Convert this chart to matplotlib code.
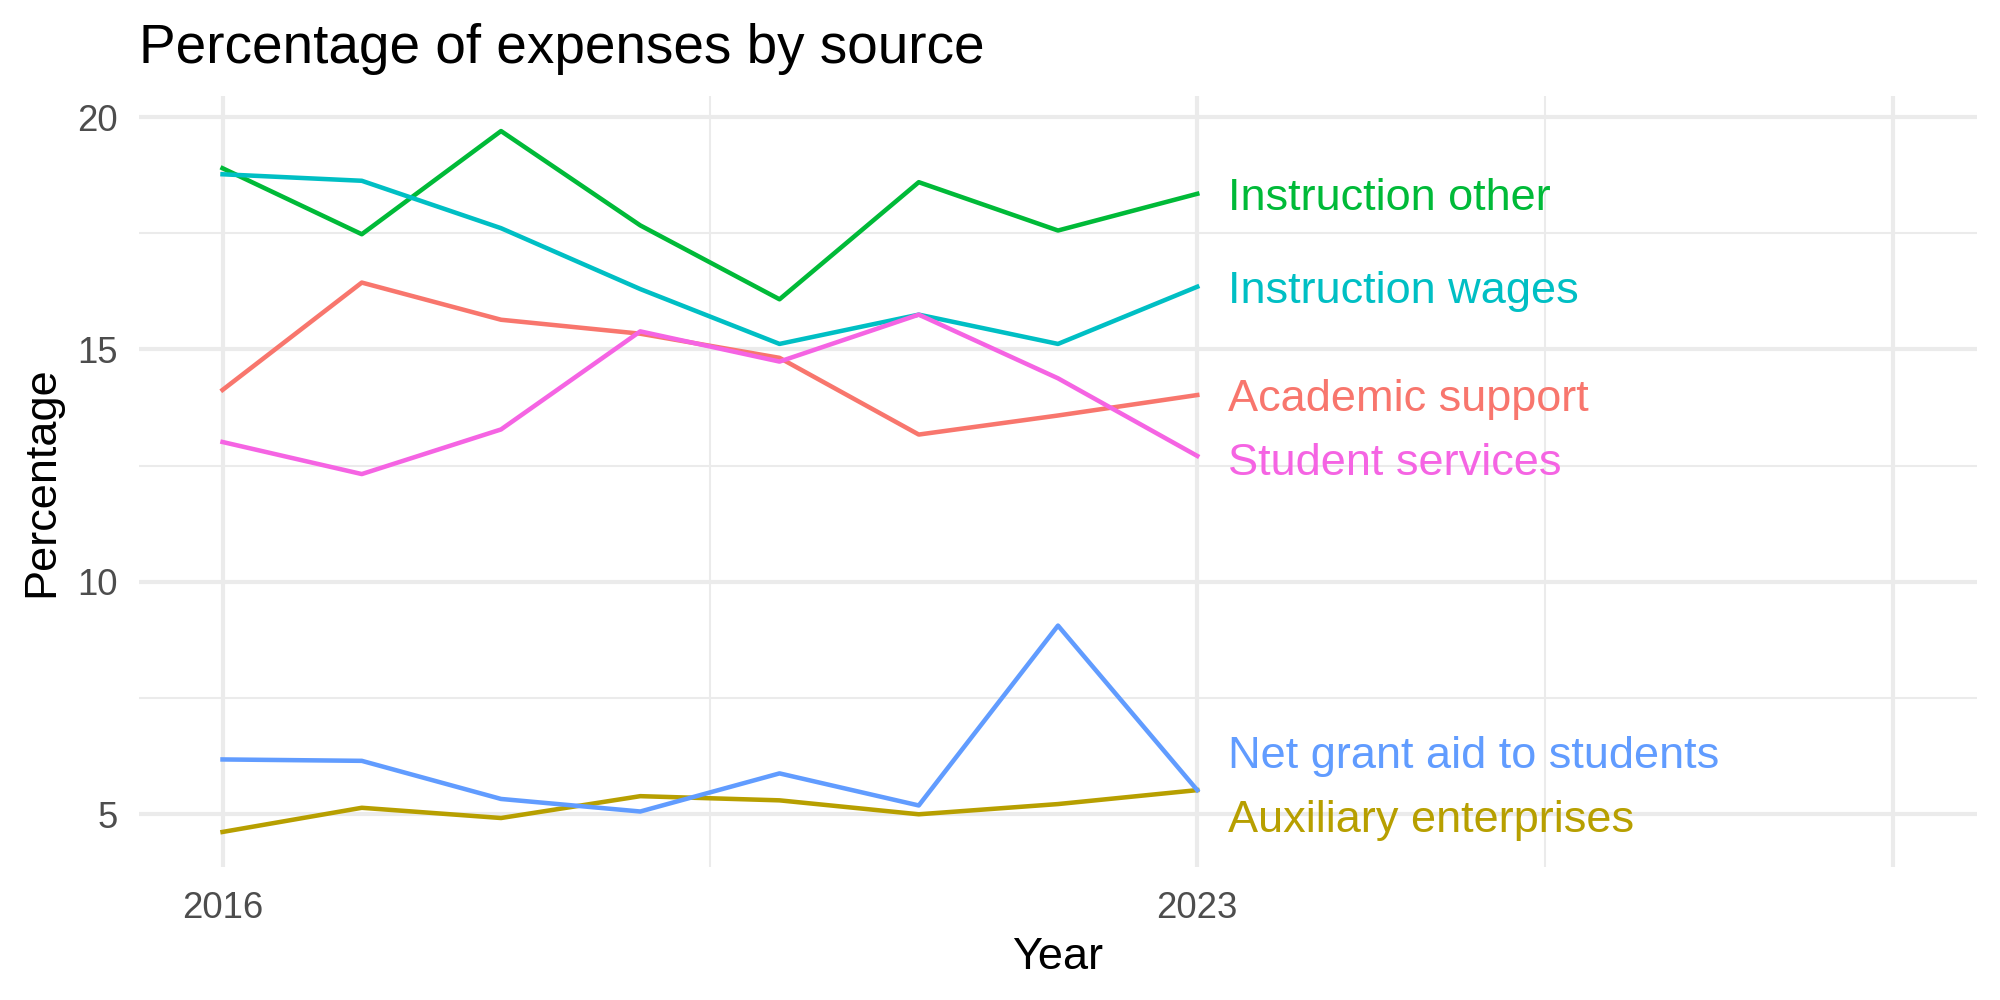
import matplotlib
matplotlib.use("Agg")
import matplotlib.pyplot as plt
import numpy as np

plt.rcParams['font.family'] = ['Liberation Sans', 'DejaVu Sans']

# values
years = [2016, 2017, 2018, 2019, 2020, 2021, 2022, 2023]
sources = ['Academic support', 'Auxiliary enterprises', 'Instruction other',
           'Instruction wages', 'Net grant aid to students', 'Student services']
academic_support = [14.13, 16.44, 15.64, 15.34, 14.82, 13.17, 13.58, 14.02]
auxiliary = [4.62, 5.14, 4.92, 5.39, 5.30, 5.00, 5.22, 5.52]
instruction_other = [18.90, 17.48, 19.70, 17.67, 16.08, 18.60, 17.56, 18.35]
instruction_wages = [18.77, 18.63, 17.61, 16.30, 15.12, 15.75, 15.12, 16.35]
net_grant_aid = [6.18, 6.15, 5.33, 5.06, 5.88, 5.19, 9.06, 5.52]
student_services = [13.01, 12.32, 13.28, 15.39, 14.74, 15.75, 14.38, 12.71]
series = [academic_support, auxiliary, instruction_other,
          instruction_wages, net_grant_aid, student_services]
colors = ['#F8766D', '#B79F00', '#00BA38', '#00BFC4', '#619CFF', '#F564E3']
# label positions (repelled a bit where they would overlap)
label_y = [13.92, 4.87, 18.25, 16.25, 6.24, 12.55]

fig = plt.figure(figsize=(8, 4), dpi=250)
ax = fig.add_axes([0.0695, 0.133, 0.919, 0.771])

for vals, col, name, ly in zip(series, colors, sources, label_y):
    ax.plot(years, vals, color=col, lw=1.3, solid_joinstyle='round', zorder=3)
    ax.text(years[-1] + 0.22, ly, name, color=col, fontsize=13,
            ha='left', va='center', zorder=4)

# ggplot style 5% expansion
xmin, xmax = 2016, 2028
allv = np.concatenate(series)
ymin, ymax = allv.min(), allv.max()
ax.set_xlim(xmin - 0.05 * (xmax - xmin), xmax + 0.05 * (xmax - xmin))
ax.set_ylim(ymin - 0.05 * (ymax - ymin), ymax + 0.05 * (ymax - ymin))

ax.set_xticks([2016, 2023, 2028])
ax.set_xticklabels(['2016', '2023', ''])
ax.set_xticks([2019.5, 2025.5], minor=True)
ax.set_yticks([5, 10, 15, 20])
ax.set_yticks([7.5, 12.5, 17.5], minor=True)

ax.grid(which='major', color='#EBEBEB', lw=1.2, zorder=0)
ax.grid(which='minor', color='#EBEBEB', lw=0.6, zorder=0)
ax.set_axisbelow(True)
for s in ax.spines.values():
    s.set_visible(False)
ax.tick_params(which='both', length=0, labelsize=10.5, labelcolor='#4D4D4D')
ax.tick_params(axis='y', pad=6)
ax.tick_params(axis='x', pad=7)

ax.set_xlabel('Year', fontsize=13, labelpad=3)
ax.set_ylabel('Percentage', fontsize=13, labelpad=4.5)
fig.text(0.0695, 0.951, 'Percentage of expenses by source', fontsize=15.8,
         ha='left', va='center')

fig.savefig('out.png', dpi=250, facecolor='white')
